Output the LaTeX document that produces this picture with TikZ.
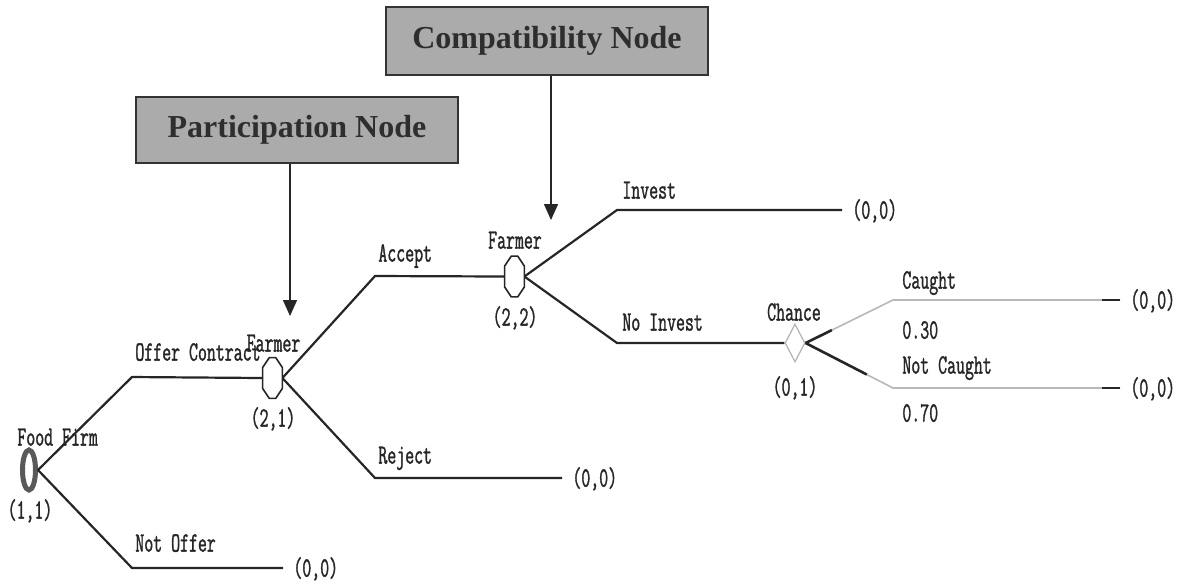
\documentclass[tikz,border=0pt]{standalone}
\usepackage{fontspec}
\usetikzlibrary{shapes.geometric,arrows.meta,calc}
\newfontfamily\treefont{Latin Modern Mono}[FakeStretch=0.62, FakeBold=1.2]
\newfontfamily\boxfont{Liberation Serif}
\definecolor{inkc}{HTML}{262626}
\definecolor{boxfill}{HTML}{ABABAB}
\definecolor{boxtext}{HTML}{2E2E2E}
\definecolor{chgray}{HTML}{B8B8B8}
\tikzset{
  tree/.style={line width=1.1pt, draw=inkc, line join=round},
  chline/.style={line width=0.8pt, draw=chgray},
  lbl/.style={font=\treefont\fontsize{14pt}{15pt}\selectfont, text=black!85,
              inner sep=0pt, text height=8.6pt, text depth=0pt},
  pay/.style={lbl, anchor=west, inner xsep=5pt},
  decnode/.style={rectangle, minimum width=9.5pt, minimum height=20pt, inner sep=0pt},
  octo/.style={draw=inkc, line width=0.8pt, fill=white, line join=round},
  rootnode/.style={ellipse, minimum width=6.5pt, minimum height=20pt, inner sep=0pt,
              draw=black!65, line width=2.5pt},
  chancenode/.style={diamond, aspect=0.5, minimum width=10pt, minimum height=19pt,
              inner sep=0pt, draw=black!30, line width=0.6pt},
  callout/.style={rectangle, draw=black!80, line width=1pt, fill=boxfill,
              text=boxtext, font=\boxfont\bfseries\fontsize{16pt}{18pt}\selectfont,
              minimum width=161pt, inner sep=0pt},
  pointer/.style={line width=0.7pt, draw=inkc, -{Triangle[width=7pt,length=8pt]}},
}
% elongated octagon drawn on the frame of a decision node
\newcommand\octagonon[1]{%
  \draw[octo] ([xshift=-1.6pt]#1.north) -- ([xshift=1.6pt]#1.north)
    -- ([yshift=-5pt]#1.north east) -- ([yshift=5pt]#1.south east)
    -- ([xshift=1.6pt]#1.south) -- ([xshift=-1.6pt]#1.south)
    -- ([yshift=5pt]#1.south west) -- ([yshift=-5pt]#1.north west) -- cycle;}
\begin{document}
\begin{tikzpicture}[x=0.5pt, y=-0.5pt]
\fill[white] (0,0) rectangle (1182,586);
\useasboundingbox (0,0) rectangle (1182,586);

% callout boxes and their pointers
\node[callout, minimum height=34pt] (comp) at (547,41) {Compatibility Node};
\node[callout, minimum height=33pt] (part) at (297,130) {Participation Node};
\coordinate (tipc) at (551,220);
\coordinate (tipp) at (290,316);
\draw[pointer] (comp.south -| tipc) -- (tipc);
\draw[pointer] (part.south -| tipp) -- (tipp);

% decision and chance nodes
\node[rootnode] (ff) at (29,470) {};
\node[decnode] (f21) at (272.5,378) {};
\node[decnode] (f22) at (514.5,276.5) {};
\node[chancenode] (ch) at (795,343) {};

% node labels
\node[lbl, anchor=west] (lff) at (17,437) {Food Firm};
\node[lbl] (vff) at (30,510) {(1,1)};
\node[lbl] (lf21) at (273.5,343) {Farmer};
\node[lbl] (vf21) at (273,418) {(2,1)};
\node[lbl] (lf22) at (515,240) {Farmer};
\node[lbl] (vf22) at (515,317) {(2,2)};
\node[lbl] (lch) at (794,312) {Chance};
\node[lbl] (vch) at (795,387) {(0,1)};

% bend points of the branches
\coordinate (bo) at (132,377);
\coordinate (bn) at (132,568);
\coordinate (ba) at (375,276);
\coordinate (br) at (375,478);
\coordinate (bi) at (617,210);
\coordinate (bni) at (617,343);
\coordinate (bc) at (893,300);
\coordinate (bnc) at (893,388);

% payoffs
\node[pay] (pn) at (283,568) {(0,0)};
\node[pay] (pr) at (562,478) {(0,0)};
\node[pay] (pi) at (842,210) {(0,0)};
\node[pay] (pc) at (1120,300) {(0,0)};
\node[pay] (pnc) at (1120,388) {(0,0)};

% branches
\draw[tree] (ff.east) -- (bo) -- (f21.west);
\draw[tree] (ff.east) -- (bn) -- (pn.west);
\draw[tree] (f21.east) -- (ba) -- (f22.west);
\draw[tree] (f21.east) -- (br) -- (pr.west);
\draw[tree] (f22.east) -- (bi) -- (pi.west);
\draw[tree] (f22.east) -- (bni) -- (ch.west);
\draw[chline] (ch.east) -- (bc) -- (pc.west);
\draw[chline] (ch.east) -- (bnc) -- (pnc.west);
\draw[tree, line width=1.3pt] (ch.east) -- ($(ch.east)!0.3!(bc)$);
\draw[tree, line width=1.3pt] (ch.east) -- ($(ch.east)!0.7!(bnc)$);
\draw[tree, line width=1.3pt] ([xshift=-9pt]pc.west) -- (pc.west);
\draw[tree, line width=1.3pt] ([xshift=-9pt]pnc.west) -- (pnc.west);

% octagonal decision-node symbols
\octagonon{f21}
\octagonon{f22}

% branch labels
\node[lbl, anchor=west] (lo) at (135,352) {Offer Contract};
\node[lbl, anchor=west] (ln) at (135,543) {Not Offer};
\node[lbl, anchor=west] (la) at (378,253) {Accept};
\node[lbl, anchor=west] (lr) at (378,455) {Reject};
\node[lbl, anchor=west] (li) at (622,190) {Invest};
\node[lbl, anchor=west] (lni) at (622,322) {No Invest};
\node[lbl, anchor=west] (lc) at (902,280) {Caught};
\node[lbl, anchor=west] (pcv) at (902,330) {0.30};
\node[lbl, anchor=west] (lnc) at (902,365) {Not Caught};
\node[lbl, anchor=west] (pncv) at (902,413) {0.70};
\end{tikzpicture}
\end{document}
